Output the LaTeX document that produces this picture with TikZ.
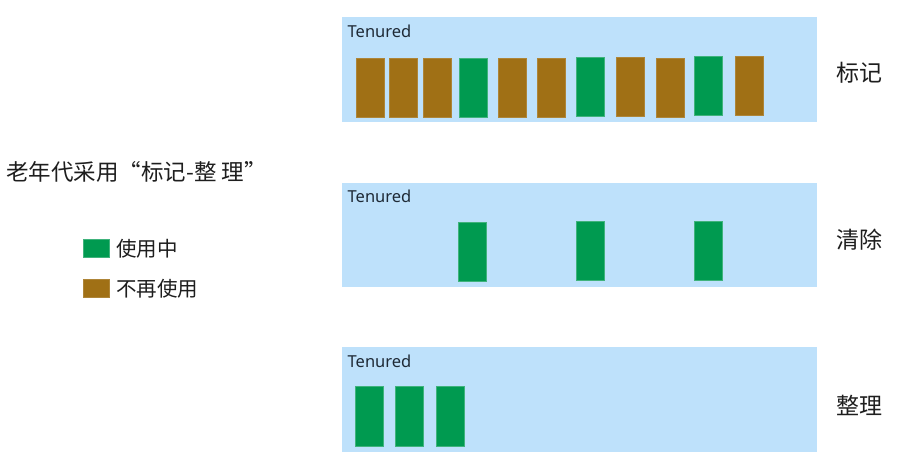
\documentclass[tikz,border=0pt]{standalone}
\usepackage{fontspec}
\setmainfont{Noto Sans}
\newfontfamily\cjk{Noto Sans CJK SC}
\definecolor{panelblue}{HTML}{BEE1FB}
\definecolor{usegreen}{HTML}{009A50}
\definecolor{deadbrown}{HTML}{A07015}
\definecolor{txt}{HTML}{1E1E1E}
\definecolor{tentxt}{HTML}{1F2A36}
\begin{document}
\begin{tikzpicture}[x=1pt,y=-1pt,
  panel/.style={fill=panelblue, draw=none, inner sep=0pt, anchor=north west, minimum width=475pt, minimum height=104.5pt},
  blk/.style={inner sep=0pt, anchor=north west, minimum width=28pt, minimum height=59pt, line width=0.6pt},
  live/.style={blk, fill=usegreen, draw=usegreen!75!white},
  dead/.style={blk, fill=deadbrown, draw=deadbrown!85!white},
  tenlabel/.style={anchor=base west, inner sep=0pt, text=tentxt, font=\fontsize{16.5}{18}\selectfont},
  steplabel/.style={anchor=west, inner sep=0pt, text=txt, font=\cjk\fontsize{23}{26}\selectfont},
  legtext/.style={anchor=west, inner sep=0pt, text=txt, font=\cjk\fontsize{20.5}{24}\selectfont},
  legbox/.style={inner sep=0pt, anchor=north west, minimum width=26pt, minimum height=18pt}]
\useasboundingbox[fill=white] (0,0) rectangle (901,464);

% title and legend
\node[anchor=west, inner sep=0pt, text=txt, font=\cjk\fontsize{22.5}{26}\selectfont] (title) at (6,172) {老年代采用“标记-整 理”};
\node[legbox, fill=usegreen, draw=usegreen!75!white, line width=0.6pt] (lg1) at (83,239) {};
\node[legtext] (lt1) at (116,248.5) {使用中};
\node[legbox, fill=deadbrown, draw=deadbrown!85!white, line width=0.6pt] (lg2) at (83,279) {};
\node[legtext] (lt2) at (116,288.5) {不再使用};

% panels
\node[panel] (p1) at (342,17) {};
\node[panel] (p2) at (342,182.5) {};
\node[panel] (p3) at (342,347) {};
\node[tenlabel] (t1) at (347.5,37) {Tenured};
\node[tenlabel] (t2) at (347.5,202.5) {Tenured};
\node[tenlabel] (t3) at (347.5,367) {Tenured};

% step labels
\node[steplabel] (s1) at (836,73) {标记};
\node[steplabel] (s2) at (836,240) {清除};
\node[steplabel] (s3) at (836,405) {整理};

% panel 1 : marking
\node[dead] (a1) at (355.7,57.5) {};
\node[dead] (a2) at (389.3,57.5) {};
\node[dead] (a3) at (423,57.5) {};
\node[live] (a4) at (458.7,57.5) {};
\node[dead] (a5) at (497.7,57.5) {};
\node[dead] (a6) at (537.3,57.5) {};
\node[live] (a7) at (576.3,56.7) {};
\node[dead] (a8) at (616,57) {};
\node[dead] (a9) at (655.7,57.5) {};
\node[live] (a10) at (694.3,56) {};
\node[dead] (a11) at (735.3,56) {};

% panel 2 : sweep
\node[live] (b1) at (458.3,222) {};
\node[live] (b2) at (576.4,221.3) {};
\node[live] (b3) at (694.3,220.5) {};

% panel 3 : compact
\node[live, minimum height=60pt] (c1) at (355,386) {};
\node[live, minimum height=60pt] (c2) at (395,386) {};
\node[live, minimum height=60pt] (c3) at (436,386) {};
\end{tikzpicture}
\end{document}
